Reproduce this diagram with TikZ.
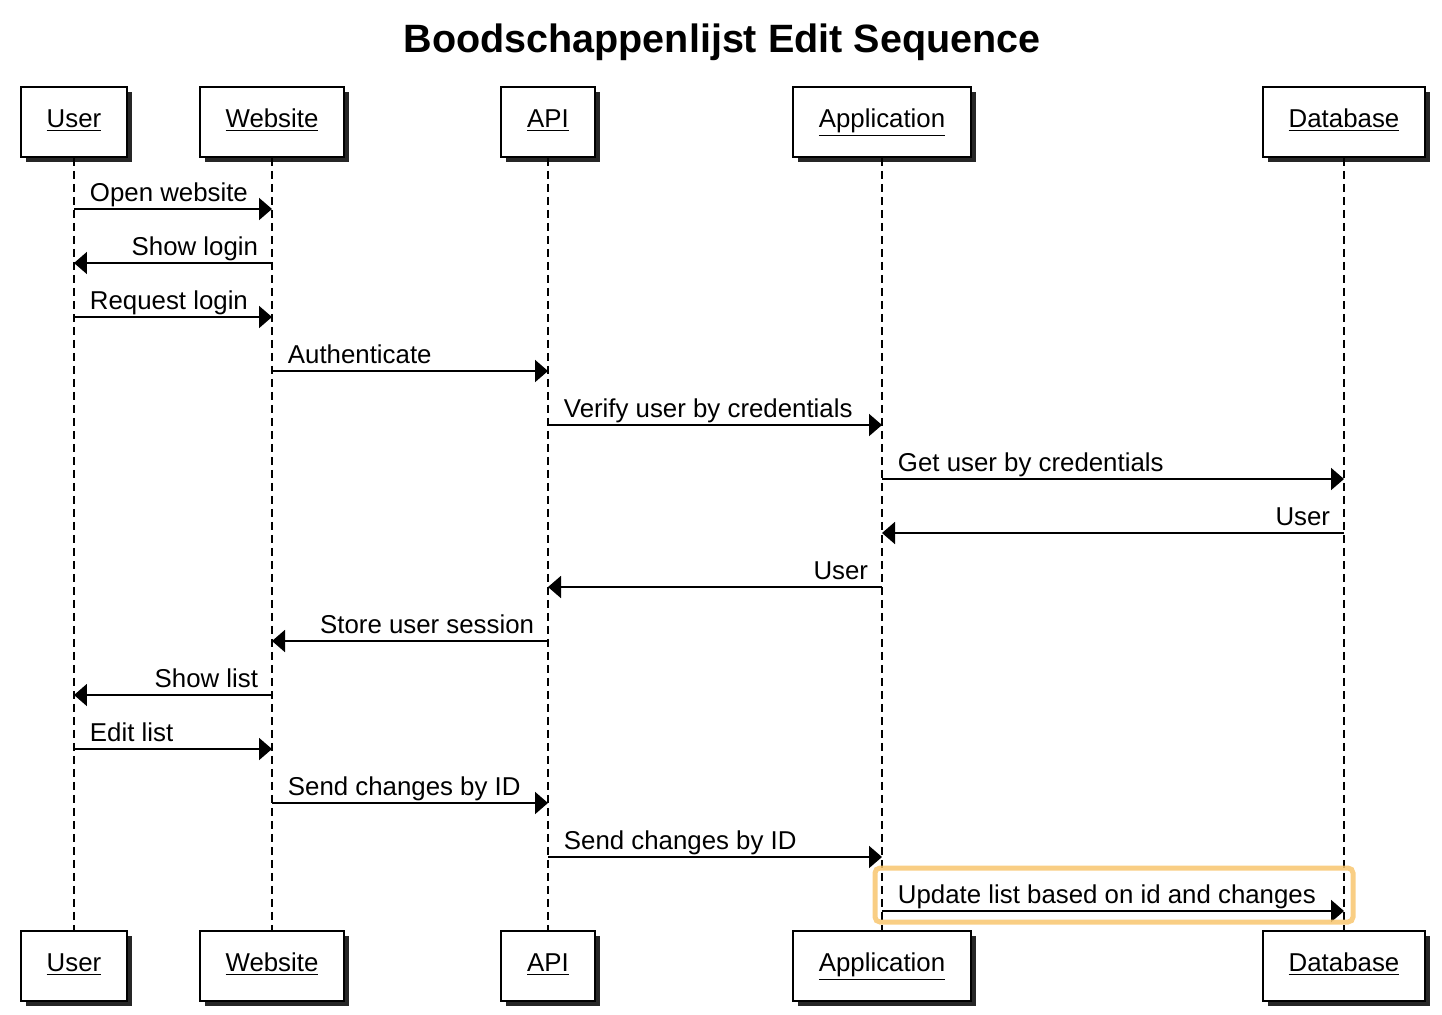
\documentclass[tikz,border=0pt]{standalone}
\usepackage{fontspec}
\setmainfont{Liberation Sans}
\usetikzlibrary{arrows.meta,shadows}
\definecolor{hilite}{RGB}{248,198,110}

\begin{document}
\begin{tikzpicture}[x=0.02cm, y=-0.02cm,
        actor/.style={draw, fill=white, line width=1.1pt, minimum height=1.4cm, inner xsep=0.52cm, text height=11pt, text depth=4.5pt, font=\fontsize{14.7}{17}\selectfont, drop shadow={shadow xshift=0.1cm, shadow yshift=-0.1cm, fill=black, opacity=0.85}},
        life/.style={line width=0.85pt, dash pattern=on 0.16cm off 0.1cm},
        msg/.style={line width=1.1pt, -{Triangle[length=0.26cm, width=0.44cm]}},
        lbl/.style={inner sep=0pt, yshift=0.16cm, font=\fontsize{14.7}{17}\selectfont}]
            \useasboundingbox (0,0) rectangle (1442,1014);
            \node[font=\bfseries\fontsize{22.5}{27}\selectfont] (title) at (722,42) {Boodschappenlijst Edit Sequence};
            \foreach \n/\x/\t in {user/74/User, web/272/Website, api/548/API, app/882/Application, db/1344/Database}{
                \node[actor] (\n-top) at (\x,122) {\underline{\t}};
                \node[actor] (\n-bot) at (\x,966) {\underline{\t}};
                \draw[life] (\n-top.south) -- (\n-bot.north); % lifeline between the two boxes
            }
            \foreach \i/\a/\b/\s/\d/\t in {1/user/web/west/15/Open website, 2/web/user/east/-13/Show login, 3/user/web/west/15/Request login,
                4/web/api/west/15/Authenticate, 5/api/app/west/15/Verify user by credentials, 6/app/db/west/15/Get user by credentials,
                7/db/app/east/-13/User, 8/app/api/east/-13/User, 9/api/web/east/-13/Store user session, 10/web/user/east/-13/Show list,
                11/user/web/west/15/Edit list, 12/web/api/west/15/Send changes by ID, 13/api/app/west/15/Send changes by ID,
                14/app/db/west/15/Update list based on id and changes}{
                \coordinate (r\i) at (0,155+54*\i);
                \draw[msg] (\a-top |- r\i) -- (\b-top |- r\i) node[lbl, pos=0, anchor=base \s, xshift=\d*0.02cm] {\t};
            }
            \draw[hilite, line width=0.1cm, rounded corners=0.1cm, opacity=0.85] (875,868) rectangle (1353,922);
      \end{tikzpicture}
\end{document}
